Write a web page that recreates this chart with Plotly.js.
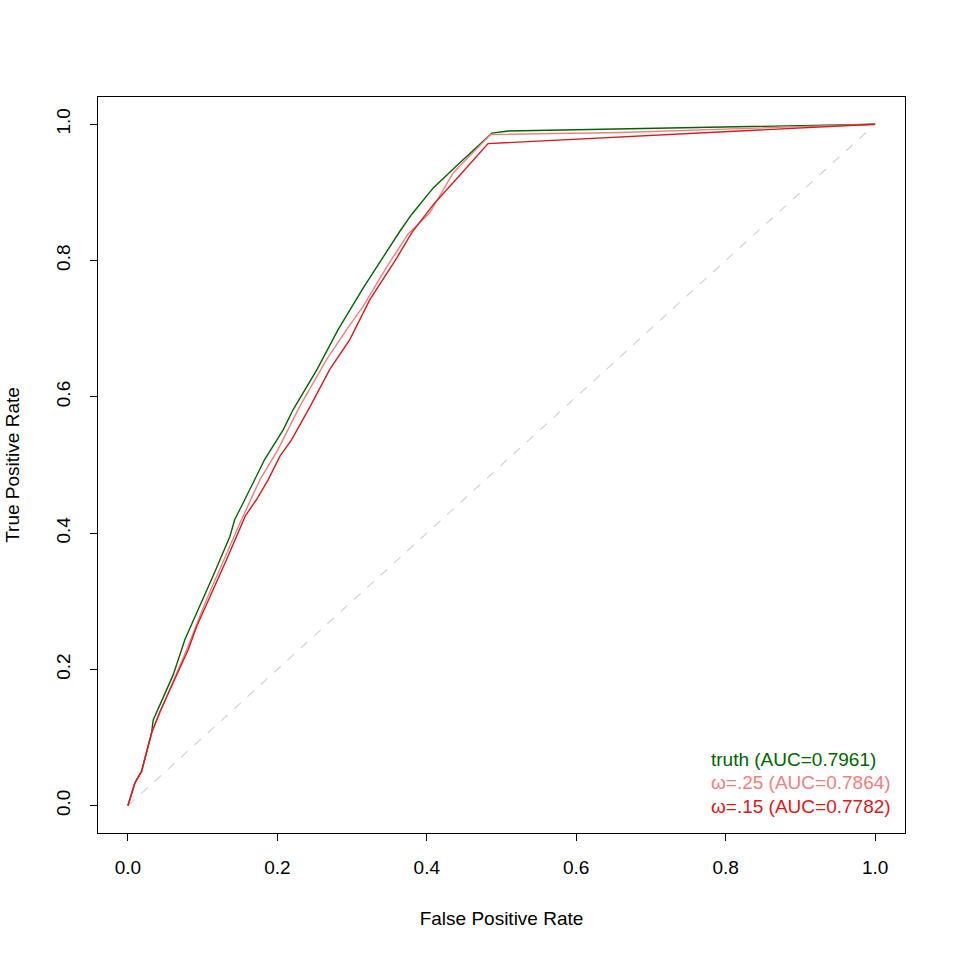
<!DOCTYPE html>
<html>
<head>
<meta charset="utf-8">
<script src="https://cdn.plot.ly/plotly-3.0.1.min.js"></script>
<style>html,body{margin:0;padding:0;background:#fff}#chart{width:955px;height:955px}</style>
</head>
<body>
<div id="chart"></div>
<script>
// Series names and labels
const seriesNames = ["truth", "ω=.25", "ω=.15"];
const aucValues = ["0.7961", "0.7864", "0.7782"];
const seriesColors = ["#006400", "#F08080", "#D7191C"];

// truth curve
const truthFPR = [0, 0.0094, 0.0183, 0.025, 0.0317, 0.0339, 0.0473, 0.0606, 0.0763, 0.0964, 0.114, 0.1365, 0.143, 0.15, 0.17, 0.183, 0.208, 0.221, 0.253, 0.2815, 0.315, 0.351, 0.364, 0.380, 0.393, 0.409, 0.44, 0.487, 0.509, 1];
const truthTPR = [0, 0.0338, 0.0504, 0.0774, 0.107, 0.126, 0.159, 0.192, 0.244, 0.293, 0.337, 0.395, 0.42, 0.435, 0.479, 0.508, 0.552, 0.581, 0.640, 0.699, 0.760, 0.821, 0.843, 0.868, 0.886, 0.907, 0.939, 0.987, 0.990, 1];

// omega = .25 curve
const w25FPR = [0, 0.0094, 0.0183, 0.025, 0.0317, 0.036, 0.052, 0.063, 0.0786, 0.105, 0.128, 0.15, 0.177, 0.201, 0.230, 0.266, 0.293, 0.315, 0.346, 0.375, 0.404, 0.4355, 0.4855, 0.659, 1];
const w25TPR = [0, 0.0338, 0.0504, 0.0774, 0.107, 0.119, 0.160, 0.188, 0.229, 0.302, 0.361, 0.415, 0.479, 0.523, 0.586, 0.655, 0.699, 0.733, 0.790, 0.839, 0.870, 0.929, 0.985, 0.988, 1];

// omega = .15 curve
const w15FPR = [0, 0.0094, 0.0183, 0.025, 0.0317, 0.0428, 0.0518, 0.063, 0.0807, 0.092, 0.11, 0.132, 0.157, 0.172, 0.188, 0.2035, 0.219, 0.244, 0.270, 0.297, 0.324, 0.36, 0.38, 0.409, 0.44, 0.482, 1];
const w15TPR = [0, 0.0333, 0.0504, 0.0774, 0.1068, 0.138, 0.160, 0.188, 0.229, 0.263, 0.307, 0.361, 0.425, 0.449, 0.479, 0.513, 0.537, 0.586, 0.640, 0.684, 0.743, 0.804, 0.841, 0.8825, 0.920, 0.9716, 1];

// chance diagonal
const diagX = [0, 1];
const diagY = [0, 1];

const tickVals = [0, 0.2, 0.4, 0.6, 0.8, 1.0];
const tickText = ["0.0", "0.2", "0.4", "0.6", "0.8", "1.0"];

const font = "Liberation Sans, Arial, Helvetica, sans-serif";
const fs = 19;

const traces = [
  {x: diagX, y: diagY, mode: "lines", line: {color: "#D3D3D3", width: 1.2, dash: "dash"}, hoverinfo: "skip"},
  {x: truthFPR, y: truthTPR, mode: "lines", line: {color: seriesColors[0], width: 1.4}, name: seriesNames[0]},
  {x: w25FPR, y: w25TPR, mode: "lines", line: {color: seriesColors[1], width: 1.4}, name: seriesNames[1]},
  {x: w15FPR, y: w15TPR, mode: "lines", line: {color: seriesColors[2], width: 1.4}, name: seriesNames[2]}
];

const annYs = [0.0685, 0.0335, -0.0005];
const annotations = seriesNames.map((n, i) => ({
  xref: "x", yref: "y", x: 0.7775, y: annYs[i], xanchor: "left", yanchor: "middle",
  text: n + " (AUC=" + aucValues[i] + ")", showarrow: false,
  font: {family: font, size: fs, color: seriesColors[i]}
}));

const layout = {
  width: 955, height: 955,
  margin: {l: 98, r: 50, t: 97, b: 122},
  paper_bgcolor: "#fff", plot_bgcolor: "#fff",
  showlegend: false,
  font: {family: font, size: fs, color: "#000"},
  xaxis: {
    range: [-0.04, 1.04], tickvals: tickVals, ticktext: tickText,
    ticks: "outside", ticklen: 7, tickcolor: "#000", tickwidth: 1,
    showgrid: false, zeroline: false, showline: true, linecolor: "#000", linewidth: 1, mirror: true,
    ticklabelstandoff: 10,
    tickfont: {family: font, size: fs, color: "#000"},
    title: {text: "False Positive Rate", font: {family: font, size: fs, color: "#000"}, standoff: 34}
  },
  yaxis: {
    range: [-0.04, 1.04], tickvals: tickVals, ticktext: tickText,
    ticks: "outside", ticklen: 7, tickcolor: "#000", tickwidth: 1, tickangle: -90,
    showgrid: false, zeroline: false, showline: true, linecolor: "#000", linewidth: 1, mirror: true,
    ticklabelstandoff: 12,
    tickfont: {family: font, size: fs, color: "#000"},
    title: {text: "True Positive Rate", font: {family: font, size: fs, color: "#000"}, standoff: 28}
  },
  annotations: annotations
};

Plotly.newPlot("chart", traces, layout, {displayModeBar: false, staticPlot: true});
</script>
</body>
</html>
